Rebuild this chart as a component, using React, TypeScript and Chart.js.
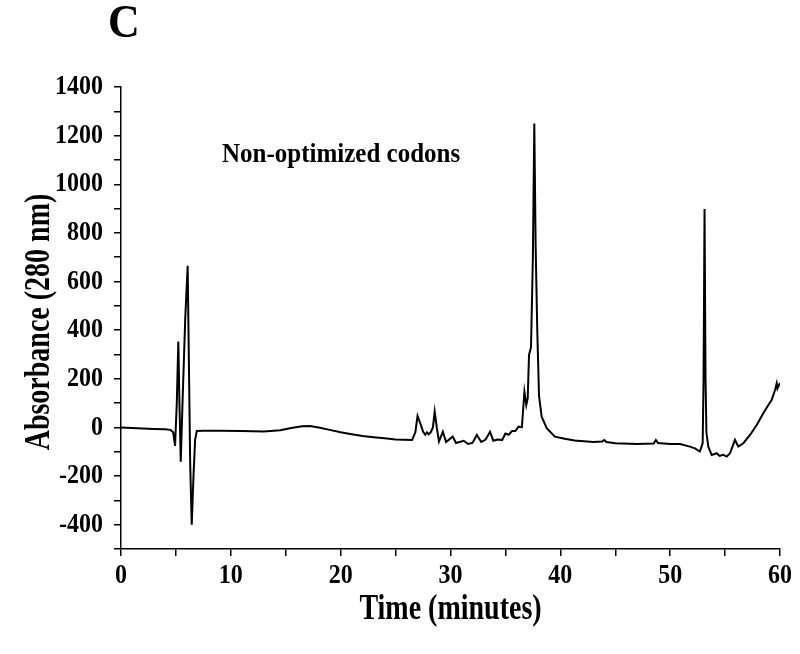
import React, { useEffect, useRef } from "react";
import { Chart, registerables } from "chart.js";

Chart.register(...registerables);

const times: number[] = [
  0, 1, 2, 3, 4, 4.5, 4.75, 4.92, 5.08, 5.22, 5.32, 5.44, 5.6, 5.85, 6.07, 6.2, 6.3, 6.44, 6.6, 6.75, 6.9,
  7.5, 9, 11, 13, 14.5, 15.5, 16.5, 17.2, 18, 19, 20, 21, 22, 23, 24, 25, 26.5,
  26.8, 27.0, 27.3, 27.5, 27.7, 27.85, 28.0, 28.2, 28.4, 28.56, 28.75, 28.95, 29.3, 29.6, 30.2, 30.5,
  31.2, 31.6, 32.0, 32.4, 32.8, 33.2, 33.6, 33.9, 34.3, 34.7, 35.0, 35.3, 35.6, 35.9, 36.2, 36.5,
  36.73, 36.9, 37.03, 37.15, 37.33, 37.5, 37.63, 37.75, 37.9, 38.06, 38.3, 38.76, 39.5, 40.4, 41.3,
  43, 43.8, 44, 44.2, 45, 47, 48.5, 48.7, 48.9, 50, 50.9, 51.8, 52.26, 52.7, 52.96, 53.04, 53.13,
  53.22, 53.3, 53.47, 53.78, 54.24, 54.5, 54.84, 55.15, 55.45, 55.9, 56.2, 56.66, 57.27, 57.88,
  58.48, 58.94, 59.24, 59.55, 59.7, 59.77, 60,
];

const absorbance: number[] = [
  0, -2, -4, -6, -8, -10, -20, -76, 100, 353, 100, -141, 100, 450, 665, 200, -150, -400, -200, -50, -15,
  -14, -14, -15, -17, -12, -2, 5, 6, 0, -10, -20, -28, -35, -40, -45, -50, -52,
  -20, 47, 10, -17, -30, -20, -28, -20, 0, 65, 0, -58, -18, -60, -38, -64,
  -55, -68, -64, -31, -60, -50, -18, -55, -50, -52, -25, -30, -15, -15, 3, 1,
  147, 92, 120, 298, 330, 700, 1250, 750, 400, 130, 44, -3, -38, -47, -54,
  -60, -58, -52, -60, -65, -68, -66, -52, -64, -68, -68, -79, -86, -99, -65, 200, 898,
  200, -20, -79, -113, -106, -117, -113, -120, -106, -51, -79, -65, -31, 10,
  58, 92, 113, 154, 181, 160, 183,
];

const xTickStep = 5;
const yTickStep = 100;
const xLabelValues: number[] = [0, 10, 20, 30, 40, 50, 60];
const yLabelValues: number[] = [1400, 1200, 1000, 800, 600, 400, 200, 0, -200, -400];
const panelLabel = "C";
const annotation = "Non-optimized codons";
const xTitle = "Time (minutes)";
const yTitle = "Absorbance (280 nm)";

const FONT = "'Liberation Serif', 'Times New Roman', serif";

function drawStretched(
  ctx: CanvasRenderingContext2D,
  text: string,
  x: number,
  y: number,
  size: number,
  align: CanvasTextAlign,
  stretch: number,
  rotate = false
) {
  ctx.save();
  ctx.translate(x, y);
  if (rotate) ctx.rotate(-Math.PI / 2);
  ctx.scale(1, stretch);
  ctx.font = `bold ${size}px ${FONT}`;
  ctx.fillStyle = "#000";
  ctx.textAlign = align;
  ctx.textBaseline = "middle";
  ctx.fillText(text, 0, 0);
  ctx.restore();
}

export default function App() {
  const ref = useRef<HTMLCanvasElement | null>(null);

  useEffect(() => {
    if (!ref.current) return;
    const textPlugin = {
      id: "texts",
      afterDraw(chart: any) {
        const ctx = chart.ctx as CanvasRenderingContext2D;
        const xs = chart.scales.x;
        const ys = chart.scales.y;
        xLabelValues.forEach((v) => drawStretched(ctx, String(v), xs.getPixelForValue(v), 576, 24, "center", 1.15));
        yLabelValues.forEach((v) => drawStretched(ctx, String(v), 103, ys.getPixelForValue(v), 24, "right", 1.15));
        drawStretched(ctx, xTitle, (xs.left + xs.right) / 2, 610, 28, "center", 1.25);
        drawStretched(ctx, yTitle, 40, (ys.top + ys.bottom) / 2 + 4, 28, "center", 1.25, true);
        drawStretched(ctx, panelLabel, 124, 25, 44, "center", 1.05);
        drawStretched(ctx, annotation, 222, 155, 25, "left", 1.12);
      },
    };
    const chart = new Chart(ref.current, {
      type: "line",
      data: {
        datasets: [
          {
            data: times.map((t, i) => ({ x: t, y: absorbance[i] })),
            borderColor: "#000",
            borderWidth: 2,
            pointRadius: 0,
            tension: 0,
            fill: false,
          },
        ],
      },
      options: {
        animation: false,
        responsive: false,
        maintainAspectRatio: false,
        layout: { padding: { left: 0, top: 87, right: 20, bottom: 0 } },
        plugins: { legend: { display: false }, tooltip: { enabled: false } },
        scales: {
          x: {
            type: "linear",
            min: 0,
            max: 60,
            afterFit: (s: any) => {
              s.height = 105;
            },
            border: { display: true, color: "#000", width: 1.5 },
            grid: { display: true, drawOnChartArea: false, drawTicks: true, tickLength: 7, color: "#000", lineWidth: 1.5 },
            ticks: {
              stepSize: xTickStep,
              color: "rgba(0,0,0,0)",
              maxRotation: 0,
              autoSkip: false,
              font: { family: FONT, size: 12 },
            },
            title: { display: false },
          },
          y: {
            type: "linear",
            min: -500,
            max: 1400,
            afterFit: (s: any) => {
              s.width = 121;
            },
            border: { display: true, color: "#000", width: 1.5 },
            grid: { display: true, drawOnChartArea: false, drawTicks: true, tickLength: 7, color: "#000", lineWidth: 1.5 },
            ticks: {
              stepSize: yTickStep,
              color: "rgba(0,0,0,0)",
              autoSkip: false,
              font: { family: FONT, size: 12 },
            },
            title: { display: false },
          },
        },
      },
      plugins: [textPlugin],
    });
    return () => chart.destroy();
  }, []);

  return (
    <div style={{ position: "absolute", left: 0, top: 0, width: 800, height: 654, background: "#fff" }}>
      <canvas ref={ref} width={800} height={654} style={{ width: 800, height: 654, display: "block" }} />
    </div>
  );
}
